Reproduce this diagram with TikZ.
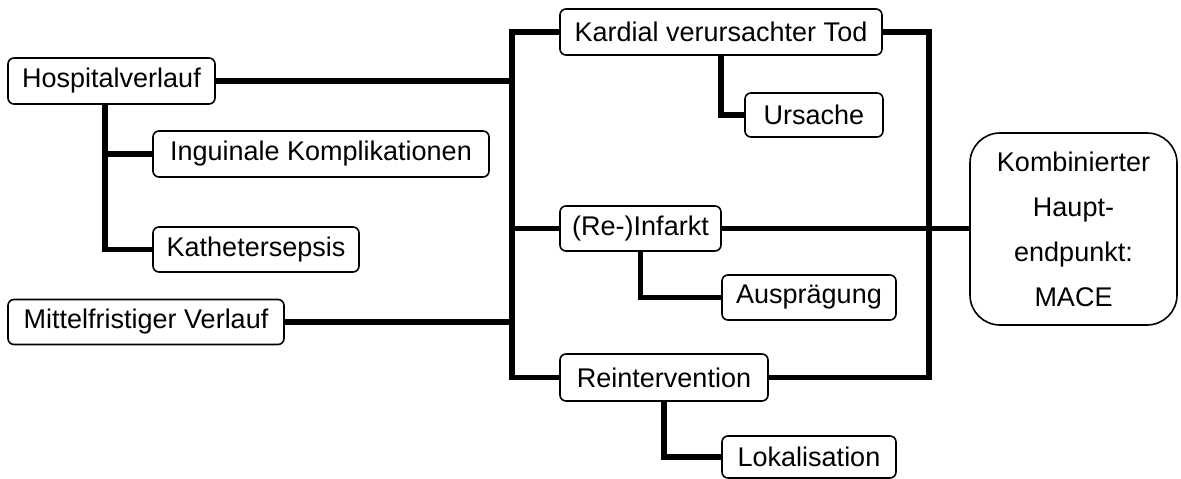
\documentclass[tikz,border=0pt]{standalone}
\usepackage{fontspec}
\setmainfont{Liberation Sans}
\begin{document}
\begin{tikzpicture}[x=1pt,y=-1pt,
  box/.style={draw=black,line width=1.6pt,rounded corners=6pt,fill=white,inner sep=0pt,
    font=\fontsize{27}{32}\selectfont,minimum height=45pt},
  conn/.style={draw=black,line width=5.5pt}]
\useasboundingbox (0,0) rectangle (1181,479);
\node[box,minimum width=207pt,minimum height=46pt] (hosp) at (111.5,81) {Hospitalverlauf};
\node[box,minimum width=336pt,minimum height=46pt] (ing) at (321,154) {Inguinale Komplikationen};
\node[box,minimum width=206pt] (kath) at (256,249.5) {Kathetersepsis};
\node[box,minimum width=276pt] (mittel) at (146,322) {Mittelfristiger Verlauf};
\node[box,minimum width=322pt,minimum height=46pt] (kard) at (721,32) {Kardial verursachter Tod};
\node[box,minimum width=138pt,minimum height=44pt] (urs) at (814,115) {Ursache};
\node[box,minimum width=161pt] (inf) at (640.5,228.5) {(Re-)Infarkt};
\node[box,minimum width=174pt] (aus) at (809,297.5) {Ausprägung};
\node[box,minimum width=208pt,minimum height=47pt] (rein) at (664,377.5) {Reintervention};
\node[box,minimum width=174pt,minimum height=42pt] (lok) at (809,457) {Lokalisation};
\node[box,minimum width=207pt,minimum height=192pt,rounded corners=30pt,align=center,
  font=\fontsize{27}{45}\selectfont] (mace) at (1073.5,229) {Kombinierter\\Haupt-\\endpunkt:\\MACE};
\coordinate (tk) at (512,0);
\coordinate (tr) at (929,0);
% left trunk
\draw[conn] (kard.west) -- (kard.west -| tk) -- (rein.west -| tk) -- (rein.west);
\draw[conn] (hosp.east) -- (hosp.east -| tk);
\draw[conn] (mittel.east) -- (mittel.east -| tk);
\draw[conn] (inf.west -| tk) -- (inf.west);
% right trunk
\draw[conn] (kard.east) -- (kard.east -| tr) -- (rein.east -| tr) -- (rein.east);
\draw[conn] (inf.east) -- (inf.east -| mace.west);
% hospital branches
\coordinate (hx) at (105,0);
\draw[conn] (hosp.south -| hx) -- (kath.west -| hx) -- (kath.west);
\draw[conn] (ing.west -| hx) -- (ing.west);
% sub branches
\draw[conn] (kard.south) |- (urs.west);
\draw[conn] (inf.south) |- (aus.west);
\draw[conn] (rein.south) |- (lok.west);
\end{tikzpicture}
\end{document}
